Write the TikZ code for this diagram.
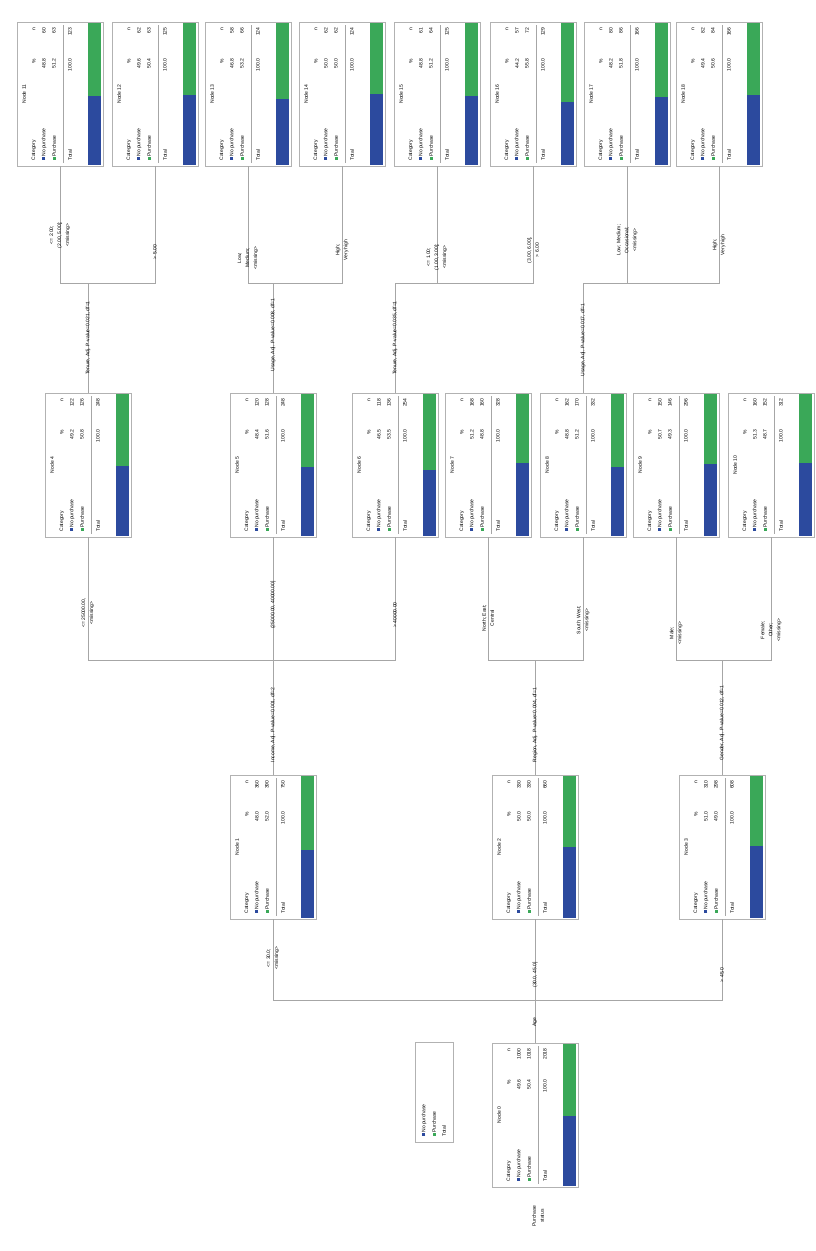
\documentclass[tikz,border=0pt]{standalone}
\usepackage{fontspec}
\setmainfont{Liberation Sans}
\usetikzlibrary{positioning, calc}

\definecolor{barblue}{RGB}{44,74,158}
\definecolor{bargreen}{RGB}{58,168,88}

\newcommand{\catsq}[1]{\textcolor{#1}{\rule{3pt}{3pt}}\,}
\newcommand{\pctnum}[1]{\pgfmathprintnumber[fixed,fixed zerofill,precision=1,assume math mode=true]{#1}}

% name, centre x, top y, node no., n(no purchase), n(purchase)
\newcommand{\treenode}[6]{%
  \pgfmathsetmacro{\tbx}{#2-43}%
  \pgfmathsetmacro{\tbxr}{#2+43}%
  \pgfmathsetmacro{\tby}{#3}%
  \pgfmathsetmacro{\tbyb}{#3+144}%
  \pgfmathtruncatemacro{\tbtot}{#5+#6}%
  \pgfmathsetmacro{\tbfrac}{#5/(#5+#6)}%
  \pgfmathsetmacro{\tbpno}{\tbfrac*100}%
  \pgfmathsetmacro{\tbpyes}{100-\tbpno}%
  \pgfmathsetmacro{\tbsplit}{\tbyb-1-142*\tbfrac}%
  \node[treebox] (#1) at (#2,#3+72) {};
  \fill[barblue]  (\tbxr-15,\tbyb-1) rectangle (\tbxr-2,\tbsplit);
  \fill[bargreen] (\tbxr-15,\tbsplit) rectangle (\tbxr-2,\tby+1);
  \node[celltext] (#1-title) at (\tbx+7,#3+72) {Node #4};
  \node[celltext,anchor=west] (#1-head) at (\tbx+17,\tbyb-5) {Category};
  \node[celltext,anchor=east] (#1-headp) at (\tbx+17,\tby+36) {\%};
  \node[celltext,anchor=east] (#1-headn) at (\tbx+17,\tby+5) {n};
  \node[celltext,anchor=west] (#1-no) at (\tbx+27,\tbyb-5) {\catsq{barblue}No purchase};
  \node[celltext,anchor=east] (#1-nop) at (\tbx+27,\tby+36) {\pctnum{\tbpno}};
  \node[celltext,anchor=east] (#1-non) at (\tbx+27,\tby+5) {#5};
  \node[celltext,anchor=west] (#1-yes) at (\tbx+37,\tbyb-5) {\catsq{bargreen}Purchase};
  \node[celltext,anchor=east] (#1-yesp) at (\tbx+37,\tby+36) {\pctnum{\tbpyes}};
  \node[celltext,anchor=east] (#1-yesn) at (\tbx+37,\tby+5) {#6};
  \draw[tablerule] (\tbx+46,\tby+3) -- (\tbx+46,\tbyb-3);
  \node[celltext,anchor=west] (#1-tot) at (\tbx+53,\tbyb-5) {Total};
  \node[celltext,anchor=east] (#1-totp) at (\tbx+53,\tby+36) {100.0};
  \node[celltext,anchor=east] (#1-totn) at (\tbx+53,\tby+5) {\tbtot};
}

\begin{document}
\begin{tikzpicture}[
x=1pt, y=-1pt,
treebox/.style={draw=gray!60, fill=white, minimum width=86, minimum height=144, inner sep=0pt},
legendbox/.style={draw=gray!60, minimum width=38, minimum height=100, inner sep=0pt},
celltext/.style={rotate=90, inner sep=0.4pt, font=\fontsize{5}{6}\selectfont},
edgelabel/.style={rotate=90, inner sep=0.5pt, align=center, font=\fontsize{5}{8}\selectfont},
tablerule/.style={draw=gray!70, line width=0.4pt},
branch/.style={draw=gray!70, line width=0.9pt},
]
\useasboundingbox (0,0) rectangle (815,1251);

\coordinate (bus0) at (0,1000);
\coordinate (bus1) at (0,660);
\coordinate (bus2) at (0,283);

% terminal nodes
\treenode{n11}{60}{22}{11}{60}{63}
\treenode{n12}{155}{22}{12}{62}{63}
\treenode{n13}{248}{22}{13}{58}{66}
\treenode{n14}{342}{22}{14}{62}{62}
\treenode{n15}{437}{22}{15}{61}{64}
\treenode{n16}{533}{22}{16}{57}{72}
\treenode{n17}{627}{22}{17}{80}{86}
\treenode{n18}{719}{22}{18}{82}{84}

% second split
\treenode{n4}{88}{393}{4}{122}{126}
\treenode{n5}{273}{393}{5}{120}{128}
\treenode{n6}{395}{393}{6}{118}{136}
\treenode{n7}{488}{393}{7}{168}{160}
\treenode{n8}{583}{393}{8}{162}{170}
\treenode{n9}{676}{393}{9}{150}{146}
\treenode{n10}{771}{393}{10}{160}{152}

% first split
\treenode{n1}{273}{775}{1}{360}{390}
\treenode{n2}{535}{775}{2}{330}{330}
\treenode{n3}{722}{775}{3}{310}{298}

% root
\treenode{n0}{535}{1043}{0}{1000}{1018}

\node[legendbox] (legend) at (434,1092) {};
\node[celltext,anchor=west] (legend-no)  at (424,1137) {\catsq{barblue}No purchase};
\node[celltext,anchor=west] (legend-yes) at (434,1137) {\catsq{bargreen}Purchase};
\node[celltext,anchor=west] (legend-tot) at (444,1137) {Total};

\node[edgelabel] (target) at (538,1216) {Purchase\\status};

\draw[branch] (n0.north) -- (n0.north |- bus0);
\draw[branch] (n0.north |- bus0) -| (n1.south);
\draw[branch] (n0.north |- bus0) -| (n2.south);
\draw[branch] (n0.north |- bus0) -| (n3.south);

\draw[branch] (n1.north) -- (n1.north |- bus1);
\draw[branch] (n1.north |- bus1) -| (n4.south);
\draw[branch] (n1.north |- bus1) -| (n5.south);
\draw[branch] (n1.north |- bus1) -| (n6.south);

\draw[branch] (n2.north) -- (n2.north |- bus1);
\draw[branch] (n2.north |- bus1) -| (n7.south);
\draw[branch] (n2.north |- bus1) -| (n8.south);

\draw[branch] (n3.north) -- (n3.north |- bus1);
\draw[branch] (n3.north |- bus1) -| (n9.south);
\draw[branch] (n3.north |- bus1) -| (n10.south);

\draw[branch] (n4.north) -- (n4.north |- bus2);
\draw[branch] (n4.north |- bus2) -| (n11.south);
\draw[branch] (n4.north |- bus2) -| (n12.south);

\draw[branch] (n5.north) -- (n5.north |- bus2);
\draw[branch] (n5.north |- bus2) -| (n13.south);
\draw[branch] (n5.north |- bus2) -| (n14.south);

\draw[branch] (n6.north) -- (n6.north |- bus2);
\draw[branch] (n6.north |- bus2) -| (n15.south);
\draw[branch] (n6.north |- bus2) -| (n16.south);

\draw[branch] (n8.north) -- (n8.north |- bus2);
\draw[branch] (n8.north |- bus2) -| (n17.south);
\draw[branch] (n8.north |- bus2) -| (n18.south);

% split variables
\node[edgelabel] (split0) at (535,1022) {Age};
\node[edgelabel] (split1) at (273,725) {Income, Adj. P-value=0.001, df=2};
\node[edgelabel] (split2) at (535,725) {Region, Adj. P-value=0.004, df=1};
\node[edgelabel] (split3) at (722,723) {Gender, Adj. P-value=0.012, df=1};
\node[edgelabel] (split4) at (88,338) {Tenure, Adj. P-value=0.021, df=1};
\node[edgelabel] (split5) at (273,335) {Usage, Adj. P-value=0.008, df=1};
\node[edgelabel] (split6) at (395,338) {Tenure, Adj. P-value=0.035, df=1};
\node[edgelabel] (split8) at (583,340) {Usage, Adj. P-value=0.017, df=1};

% branch categories
\node[edgelabel] (cat1) at (273,958) {<= 30.0;\\<missing>};
\node[edgelabel] (cat2) at (535,975) {(30.0, 45.0]};
\node[edgelabel] (cat3) at (722,975) {> 45.0};

\node[edgelabel] (cat4) at (88,613) {<= 25000.00,\\<missing>};
\node[edgelabel] (cat5) at (273,605) {(25000.00, 40000.00]};
\node[edgelabel] (cat6) at (395,615) {> 40000.00};
\node[edgelabel] (cat7) at (488,618) {North; East;\\Central};
\node[edgelabel] (cat8) at (583,620) {South; West;\\<missing>};
\node[edgelabel] (cat9) at (676,633) {Male;\\<missing>};
\node[edgelabel] (cat10) at (771,630) {Female;\\Other;\\<missing>};

\node[edgelabel] (cat11) at (60,235) {<= 2.00;\\(2.00, 5.00];\\<missing>};
\node[edgelabel] (cat12) at (155,252) {> 5.00};
\node[edgelabel] (cat13) at (248,258) {Low;\\Medium;\\<missing>};
\node[edgelabel] (cat14) at (342,250) {High;\\Very high};
\node[edgelabel] (cat15) at (437,257) {<= 1.00;\\(1.00, 3.00];\\<missing>};
\node[edgelabel] (cat16) at (533,250) {(3.00, 6.00],\\> 6.00};
\node[edgelabel] (cat17) at (627,240) {Low; Medium;\\Occasional;\\<missing>};
\node[edgelabel] (cat18) at (719,245) {High;\\Very high};

\end{tikzpicture}
\end{document}
